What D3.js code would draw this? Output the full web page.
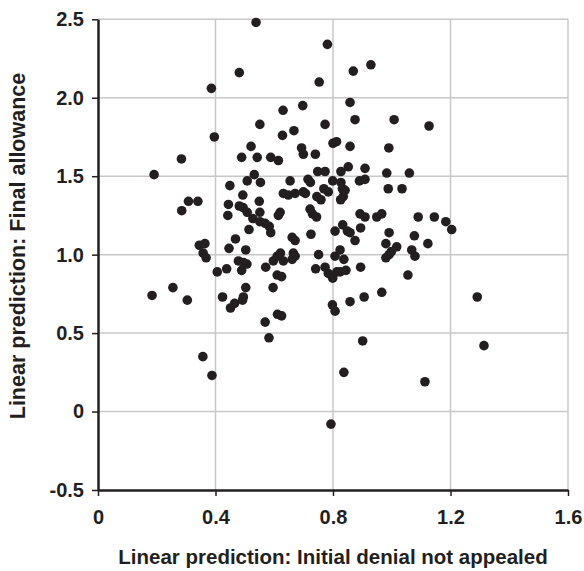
<!DOCTYPE html>
<html>
<head>
<meta charset="utf-8">
<script src="https://cdn.jsdelivr.net/npm/d3@7"></script>
<style>
  html, body { margin: 0; padding: 0; background: #fff; }
  svg { display: block; }
  text { font-family: "Liberation Sans", Arial, sans-serif; font-weight: bold; fill: #231f20; }
</style>
</head>
<body>
<svg id="chart" width="584" height="571"></svg>
<script>
// Data
const xValues = [
  0.538,0.781,0.869,0.929,0.481,0.753,0.386,0.858,0.630,0.697,
  0.191,0.284,0.396,0.308,0.340,0.285,0.551,0.773,0.667,0.628,
  0.521,0.693,0.699,0.740,0.800,0.812,0.489,0.542,0.588,0.614,
  0.532,0.508,0.553,0.654,0.449,0.715,0.723,0.748,0.773,0.493,
  0.549,0.444,0.442,0.481,0.494,0.508,0.551,0.620,0.614,0.527,
  0.551,0.569,0.583,0.514,0.588,0.631,0.648,0.671,0.699,0.706,
  0.722,0.730,0.744,0.745,0.759,0.769,0.784,0.661,0.671,0.725,
  0.468,0.875,1.008,1.127,0.858,0.990,0.827,0.852,0.909,0.983,
  1.060,0.799,0.827,0.832,0.841,0.890,0.909,0.988,1.035,0.835,
  0.826,0.892,0.909,0.949,0.966,1.090,1.145,1.184,1.204,0.807,
  0.833,0.849,0.858,0.894,0.991,1.077,0.345,0.364,0.358,0.368,
  0.446,0.503,0.478,0.495,0.507,0.489,0.438,0.406,0.571,0.597,
  0.610,0.621,0.631,0.665,0.671,0.661,0.610,0.625,0.751,0.741,
  0.773,0.784,0.503,0.596,0.304,0.424,0.451,0.465,0.492,0.495,
  0.569,0.611,0.625,0.582,0.184,0.255,0.357,0.388,0.875,0.980,
  0.999,1.017,0.980,0.991,1.068,1.079,1.123,0.807,0.824,0.837,
  0.799,0.813,0.824,0.844,0.894,1.055,0.966,0.906,0.858,0.798,
  0.807,0.901,1.291,1.314,0.837,1.113,0.793
];
const yValues = [
  2.48,2.34,2.17,2.21,2.16,2.10,2.06,1.97,1.92,1.95,
  1.51,1.61,1.75,1.34,1.34,1.28,1.83,1.83,1.79,1.76,
  1.69,1.68,1.64,1.64,1.71,1.72,1.62,1.62,1.62,1.60,
  1.51,1.47,1.46,1.47,1.44,1.48,1.46,1.53,1.53,1.38,
  1.34,1.32,1.25,1.31,1.30,1.27,1.27,1.27,1.25,1.23,
  1.21,1.20,1.18,1.16,1.14,1.39,1.38,1.39,1.40,1.39,
  1.29,1.26,1.24,1.37,1.35,1.42,1.40,1.11,1.09,1.13,
  1.10,1.86,1.86,1.82,1.69,1.68,1.53,1.56,1.55,1.52,
  1.52,1.47,1.46,1.42,1.41,1.47,1.48,1.42,1.42,1.37,
  1.35,1.26,1.24,1.24,1.26,1.24,1.24,1.21,1.16,1.15,
  1.19,1.15,1.14,1.17,1.14,1.12,1.06,1.07,1.01,0.98,
  1.04,1.03,0.96,0.95,0.94,0.90,0.91,0.89,0.92,0.96,
  0.99,1.01,0.96,1.01,0.99,0.97,0.87,0.86,1.00,0.91,
  0.92,0.88,0.79,0.79,0.71,0.73,0.66,0.69,0.71,0.73,
  0.57,0.62,0.61,0.47,0.74,0.79,0.35,0.23,1.09,1.07,
  1.02,1.05,0.98,1.00,1.03,0.99,1.07,0.99,1.03,0.97,
  0.85,0.89,0.89,0.90,0.92,0.87,0.76,0.73,0.70,0.68,
  0.64,0.45,0.73,0.42,0.25,0.19,-0.08
];
const xTicks = [0, 0.4, 0.8, 1.2, 1.6];
const xTickLabels = ["0", "0.4", "0.8", "1.2", "1.6"];
const yTicks = [-0.5, 0, 0.5, 1.0, 1.5, 2.0, 2.5];
const yTickLabels = ["-0.5", "0", "0.5", "1.0", "1.5", "2.0", "2.5"];
const xTitle = "Linear prediction: Initial denial not appealed";
const yTitle = "Linear prediction: Final allowance";

const ink = "#231f20";
const gridColor = "#c8c8c8";
const margin = { left: 98, right: 16, top: 19.3, bottom: 81 };
const W = 584, H = 571;
const svg = d3.select("#chart");

const x = d3.scaleLinear().domain([0, 1.6]).range([margin.left, W - margin.right]);
const y = d3.scaleLinear().domain([-0.5, 2.5]).range([H - margin.bottom, margin.top]);

// Gridlines
const grid = svg.append("g");
grid.selectAll("line.h").data(yTicks.filter(d => d > -0.5)).join("line")
  .attr("x1", x(0)).attr("x2", x(1.6))
  .attr("y1", d => y(d)).attr("y2", d => y(d))
  .attr("stroke", gridColor).attr("stroke-width", 1.5);
grid.selectAll("line.v").data(xTicks.filter(d => d > 0)).join("line")
  .attr("x1", d => x(d)).attr("x2", d => x(d))
  .attr("y1", y(2.5)).attr("y2", y(-0.5))
  .attr("stroke", gridColor).attr("stroke-width", 1.5);

// Dots
const pts = xValues.map((v, i) => ({ x: v, y: yValues[i] }));
svg.append("g").selectAll("circle").data(pts).join("circle")
  .attr("cx", d => x(d.x)).attr("cy", d => y(d.y))
  .attr("r", 4.8).attr("fill", ink);

// Axes
const xAxis = d3.axisBottom(x).tickValues(xTicks)
  .tickFormat((d, i) => xTickLabels[i]).tickSize(6).tickPadding(14).tickSizeOuter(0);
const gx = svg.append("g").attr("transform", `translate(0,${y(-0.5)})`).call(xAxis);
gx.select(".domain").attr("stroke", ink).attr("stroke-width", 2.5);
gx.selectAll(".tick line").attr("stroke", ink).attr("stroke-width", 1.5);
gx.selectAll(".tick text").style("font-size", "20px").attr("fill", ink);

const yAxis = d3.axisLeft(y).tickValues(yTicks)
  .tickFormat((d, i) => yTickLabels[i]).tickSize(6).tickPadding(8).tickSizeOuter(0);
const gy = svg.append("g").attr("transform", `translate(${x(0)},0)`).call(yAxis);
gy.select(".domain").attr("stroke", ink).attr("stroke-width", 2.5);
gy.selectAll(".tick line").attr("stroke", ink).attr("stroke-width", 1.5);
gy.selectAll(".tick text").style("font-size", "20px").attr("fill", ink);

// Titles
svg.append("text")
  .attr("x", 333).attr("y", 564)
  .attr("text-anchor", "middle").style("font-size", "20.5px")
  .text(xTitle);
svg.append("text")
  .attr("transform", "translate(25,246) rotate(-90)")
  .attr("text-anchor", "middle").style("font-size", "21.5px")
  .text(yTitle);
</script>
</body>
</html>
